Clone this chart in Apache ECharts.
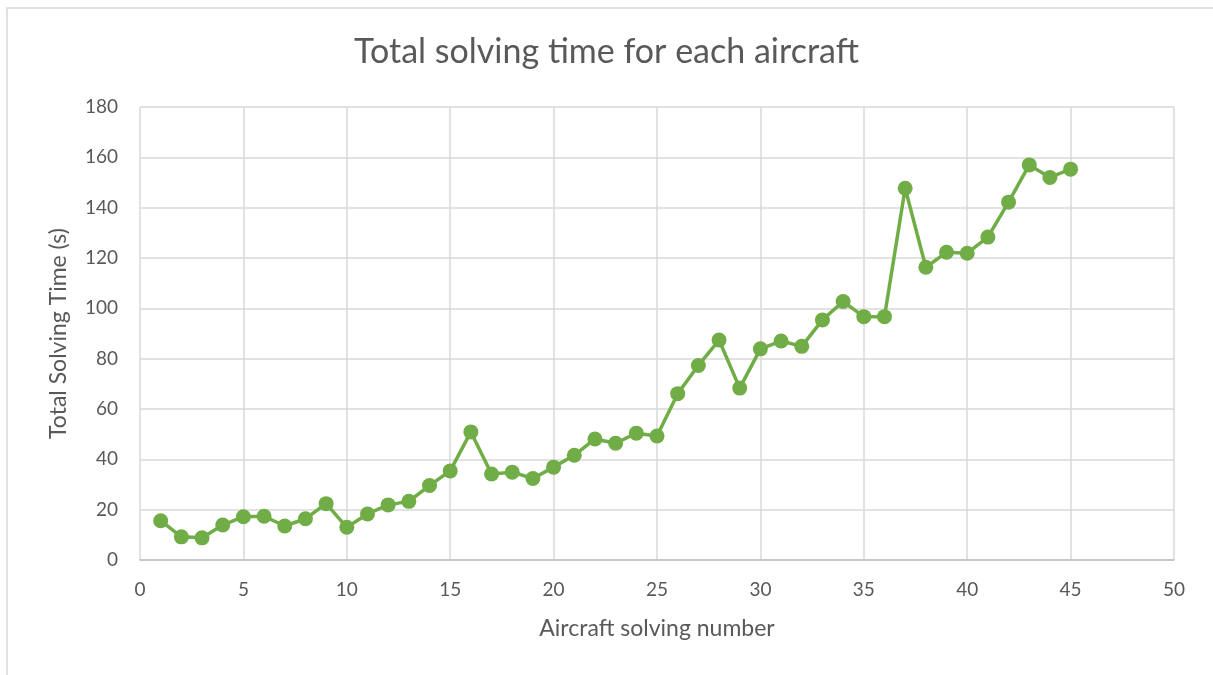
<!DOCTYPE html>
<html>
<head>
<meta charset="utf-8">
<script src="https://cdn.jsdelivr.net/npm/echarts@6/dist/echarts.min.js"></script>
<style>
  html, body { margin: 0; padding: 0; background: #ffffff; }
  #chart { width: 1213px; height: 675px; }
</style>
</head>
<body>
<div id="chart"></div>
<script>
// Aircraft solving order and total solving time per aircraft (seconds)
const aircraftNumbers = [
  1, 2, 3, 4, 5, 6, 7, 8, 9, 10,
  11, 12, 13, 14, 15, 16, 17, 18, 19, 20,
  21, 22, 23, 24, 25, 26, 27, 28, 29, 30,
  31, 32, 33, 34, 35, 36, 37, 38, 39, 40,
  41, 42, 43, 44, 45
];
const solvingTimes = [
  15.6, 9.2, 8.8, 13.9, 17.2, 17.4, 13.5, 16.4, 22.4, 13.0,
  18.3, 21.9, 23.3, 29.6, 35.4, 50.9, 34.2, 34.9, 32.4, 36.9,
  41.6, 48.1, 46.4, 50.4, 49.3, 66.1, 77.3, 87.4, 68.3, 83.9,
  87.0, 84.9, 95.4, 102.7, 96.7, 96.7, 147.7, 116.3, 122.3, 121.9,
  128.3, 142.2, 157.0, 152.0, 155.3
];

const chartTitle = 'Total solving time for each aircraft';
const xAxisTitle = 'Aircraft solving number';
const yAxisTitle = 'Total Solving Time (s)';

const points = aircraftNumbers.map((n, i) => [n, solvingTimes[i]]);

const textColor = '#595959';
const fontFamily = 'Lato, "Open Sans", sans-serif';

const chart = echarts.init(document.getElementById('chart'), null, { renderer: 'canvas' });
chart.setOption({
  backgroundColor: '#ffffff',
  animation: false,
  textStyle: { fontFamily: fontFamily },
  graphic: [{
    type: 'rect',
    shape: { x: 7, y: 8, width: 1230, height: 700 },
    style: { fill: 'none', stroke: '#d9d9d9', lineWidth: 1.5 },
    silent: true
  }],
  title: {
    text: chartTitle,
    left: 'center',
    top: 30,
    textStyle: { color: textColor, fontSize: 34, fontWeight: 'normal', fontFamily: fontFamily }
  },
  grid: { left: 140, right: 39, top: 107, bottom: 115, containLabel: false },
  xAxis: {
    type: 'value',
    min: 0, max: 50, interval: 5,
    name: xAxisTitle,
    nameLocation: 'middle',
    nameGap: 57,
    nameTextStyle: { color: textColor, fontSize: 23, fontFamily: fontFamily },
    axisLine: { show: true, lineStyle: { color: '#bfbfbf', width: 1.5 } },
    axisTick: { show: false },
    axisLabel: { color: textColor, fontSize: 19, margin: 20, fontFamily: fontFamily },
    splitLine: { show: true, lineStyle: { color: '#d9d9d9', width: 1.5 } }
  },
  yAxis: {
    type: 'value',
    min: 0, max: 180, interval: 20,
    name: yAxisTitle,
    nameLocation: 'middle',
    nameGap: 70,
    nameTextStyle: { color: textColor, fontSize: 23, fontFamily: fontFamily },
    axisLine: { show: false },
    axisTick: { show: false },
    axisLabel: { color: textColor, fontSize: 19, margin: 22, fontFamily: fontFamily },
    splitLine: { show: true, lineStyle: { color: '#d9d9d9', width: 1.5 } }
  },
  series: [{
    type: 'line',
    data: points,
    symbol: 'circle',
    symbolSize: 15,
    itemStyle: { color: '#70ad47' },
    lineStyle: { color: '#70ad47', width: 3.5 },
    z: 3
  }]
});
</script>
</body>
</html>
